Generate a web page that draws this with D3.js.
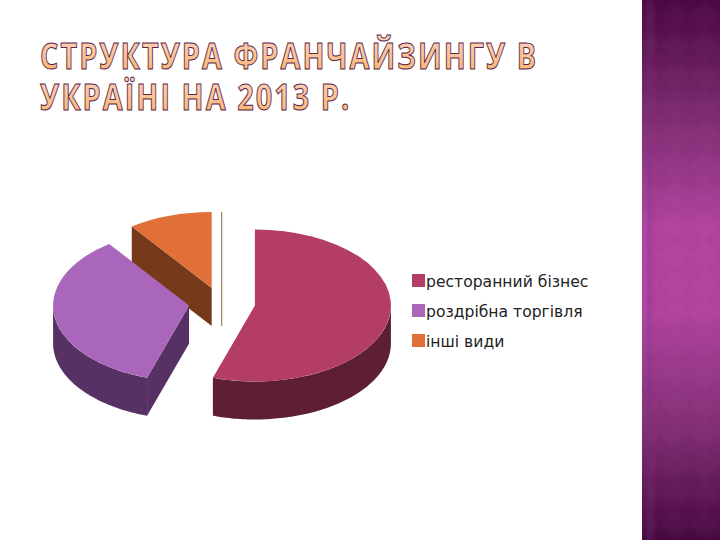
<!DOCTYPE html>
<html>
<head>
<meta charset="utf-8">
<script src="https://cdn.jsdelivr.net/npm/d3@7"></script>
<style>
    html, body { margin: 0; padding: 0; background: #fff; }
    svg { display: block; }
</style>
</head>
<body>
<svg id="chart"></svg>
<script>
const titleLines = ["СТРУКТУРА ФРАНЧАЙЗИНГУ В", "УКРАЇНІ НА 2013 Р."];
const categories = ["ресторанний бізнес", "роздрібна торгівля", "інші види"];
const shares = [55, 35, 10];
const topColors = ["#b33d66", "#aa66bb", "#e07038"];
const wallColors = ["#5e1f36", "#573163", "#76391a"];

const width = 720;
const height = 540;
const cx = 222, cy = 303;   // pie centre before the slices are pulled out
const rx = 136, ry = 76;    // ellipse of the tilted pie
const depth = 38;
const explodeX = 0.245, explodeY = 0.208;

const svg = d3.select("#chart").attr("width", width).attr("height", height);
const defs = svg.append("defs");

// side band
const bandGrad = defs.append("linearGradient").attr("id", "band").attr("x2", 0).attr("y2", 1);
bandGrad.selectAll("stop")
    .data([[0, "#4a0742"], [0.22, "#7f2c72"], [0.42, "#b0429d"], [0.58, "#b0429d"], [0.8, "#7f2c72"], [1, "#470840"]])
    .enter().append("stop")
    .attr("offset", d => d[0])
    .attr("stop-color", d => d[1]);

const diamond = defs.append("pattern").attr("id", "diamonds")
    .attr("patternUnits", "userSpaceOnUse").attr("width", 30).attr("height", 30);
diamond.append("path").attr("d", "M15 0L30 15L15 30L0 15Z").attr("fill", "#fff").attr("opacity", 0.015);

svg.append("rect").attr("x", 642).attr("width", 78).attr("height", height).attr("fill", "url(#band)");
svg.append("rect").attr("x", 642).attr("width", 78).attr("height", height).attr("fill", "url(#diamonds)");
svg.append("rect").attr("x", 647).attr("width", 5).attr("height", height).attr("fill", "#5a3a90").attr("opacity", 0.22);
svg.append("rect").attr("x", 652).attr("width", 3).attr("height", height).attr("fill", "#c02060").attr("opacity", 0.14);

// title
const titleGrad = defs.append("linearGradient").attr("id", "titleFill").attr("x2", 0).attr("y2", 1);
titleGrad.append("stop").attr("offset", 0).attr("stop-color", "#fbd8cc");
titleGrad.append("stop").attr("offset", 1).attr("stop-color", "#f7b060");

svg.selectAll(".title")
    .data(titleLines)
    .enter().append("text")
    .attr("class", "title")
    .attr("transform", (d, i) => `translate(40,${69 + i * 41})scale(0.8,1)`)
    .attr("font-family", "'Open Sans', sans-serif")
    .attr("font-weight", 700)
    .attr("font-size", 36)
    .attr("letter-spacing", 2.6)
    .attr("fill", "url(#titleFill)")
    .attr("stroke", "#5c2348")
    .attr("stroke-width", 1)
    .text(d => d);

// pie
const pie = d3.pie().sort(null).value(d => d);
const slices = pie(shares).map((d, i) => {
    const mid = (d.startAngle + d.endAngle) / 2;
    return {
        ...d,
        i,
        ox: cx + Math.sin(mid) * explodeX * rx,
        oy: cy - Math.cos(mid) * explodeY * ry
    };
});

const ptX = (d, a) => d.ox + Math.sin(a) * rx;
const ptY = (d, a) => d.oy - Math.cos(a) * ry;

// top face is a circular arc squashed to the ellipse
const topArc = d3.arc().innerRadius(0).outerRadius(rx);

function rimWall(d) {
    const a0 = Math.max(d.startAngle, Math.PI / 2);
    const a1 = Math.min(d.endAngle, Math.PI * 1.5);
    if (a1 <= a0) return null;
    const angles = d3.range(a0, a1, 0.02).concat([a1]);
    const upper = angles.map(a => [ptX(d, a), ptY(d, a)]);
    const lower = angles.slice().reverse().map(a => [ptX(d, a), ptY(d, a) + depth]);
    return d3.line()(upper.concat(lower)) + "Z";
}

function radialWall(d, a) {
    const rim = [ptX(d, a), ptY(d, a)];
    return d3.line()([[d.ox, d.oy], rim, [rim[0], rim[1] + depth], [d.ox, d.oy + depth]]) + "Z";
}

// far slices first so the near ones overlap them
const drawOrder = [2, 1, 0];
const sliceG = svg.selectAll(".slice")
    .data(drawOrder.map(i => slices[i]))
    .enter().append("g")
    .attr("class", "slice");

sliceG.filter(d => Math.sin(d.startAngle) < 0)
    .append("path")
    .attr("d", d => radialWall(d, d.startAngle))
    .attr("fill", d => wallColors[d.i]);

sliceG.filter(d => rimWall(d) !== null)
    .append("path")
    .attr("d", rimWall)
    .attr("fill", d => wallColors[d.i]);

sliceG.append("path")
    .attr("d", d => topArc(d))
    .attr("transform", d => `translate(${d.ox},${d.oy})scale(1,${ry / rx})`)
    .attr("fill", d => topColors[d.i]);

// thin leftover edge next to the small slice
const small = slices[2];
svg.append("line")
    .attr("x1", small.ox + 10).attr("x2", small.ox + 10)
    .attr("y1", small.oy - ry).attr("y2", small.oy + depth)
    .attr("stroke", "#8a6a3a")
    .attr("stroke-width", 1);

// legend
const legendY = d3.scalePoint().domain(categories).range([281, 341]);
const legend = svg.selectAll(".legend")
    .data(categories)
    .enter().append("g")
    .attr("class", "legend")
    .attr("transform", d => `translate(412,${legendY(d)})`);

legend.append("rect")
    .attr("y", -7).attr("width", 13).attr("height", 13)
    .attr("fill", (d, i) => topColors[i]);

legend.append("text")
    .attr("x", 14)
    .attr("y", 6)
    .attr("font-family", "'DejaVu Sans', sans-serif")
    .attr("font-size", 15.6)
    .attr("fill", "#222")
    .text(d => d);
</script>
</body>
</html>
